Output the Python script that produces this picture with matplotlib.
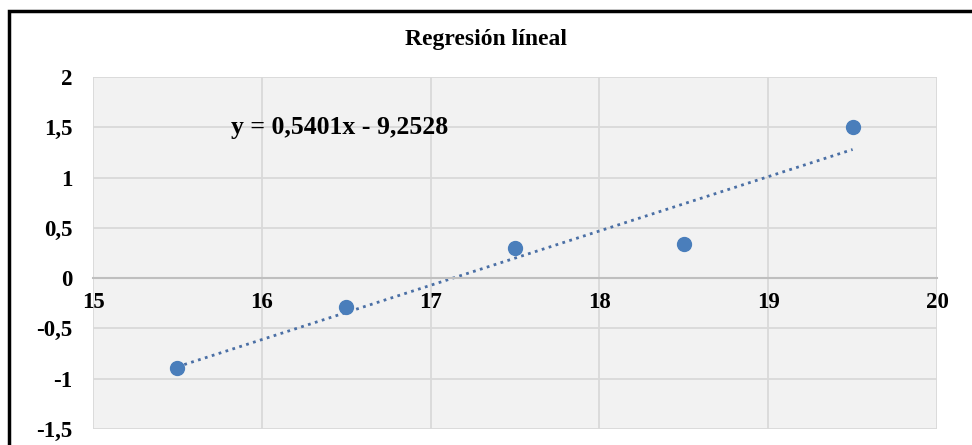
import numpy as np
import matplotlib.pyplot as plt
from matplotlib.patches import Rectangle
from matplotlib.ticker import FuncFormatter

x_vals = [15.5, 16.5, 17.5, 18.5, 19.5]
y_vals = [-0.89, -0.29, 0.30, 0.34, 1.50]
slope = 0.5401
intercept = -9.2528
title = "Regresión líneal"
eq_label = "y = 0,5401x - 9,2528"

plt.rcParams['font.family'] = ['Liberation Serif', 'DejaVu Serif']
plt.rcParams['font.weight'] = 'bold'

fig = plt.figure(figsize=(9.72, 4.45), dpi=100)
ax = fig.add_axes([93/972, 1 - 429/445, (937 - 93)/972, (429 - 77)/445])

ax.set_facecolor('#f2f2f2')
ax.set_xlim(15, 20)
ax.set_ylim(-1.5, 2)
ax.set_xticks(np.arange(15, 20.1, 1))
ax.set_yticks(np.arange(-1.5, 2.01, 0.5))
ax.grid(True, color='#d9d9d9', linewidth=1.3)
ax.set_axisbelow(True)

for s in ['top', 'right', 'left']:
    ax.spines[s].set_visible(False)
ax.spines['bottom'].set_position(('data', 0))
ax.spines['bottom'].set_color('#bfbfbf')
ax.spines['bottom'].set_linewidth(1.5)

fmt = FuncFormatter(lambda v, p: ('%g' % v).replace('.', ','))
ax.xaxis.set_major_formatter(fmt)
ax.yaxis.set_major_formatter(fmt)
ax.tick_params(axis='both', length=0, labelsize=16.5)
ax.tick_params(axis='y', pad=15)
ax.tick_params(axis='x', pad=10)

# trendline
xt = np.array([x_vals[0], x_vals[-1]])
ax.plot(xt, slope * xt + intercept, linestyle=(0, (1, 1.6)), color='#4a6fa5',
        linewidth=2, zorder=2)
ax.plot(x_vals, y_vals, 'o', color='#4a7ebb', markersize=10, zorder=3)

ax.text(15.82, 1.5, eq_label, fontsize=18.5, fontweight='bold', ha='left', va='center')
fig.text(0.5, 1 - 40/445, title, fontsize=17, fontweight='bold', ha='center', va='center')

# frame around the chart
fig.patches.append(Rectangle((9/972, -0.1), 1.2, 1 - 11/445 + 0.1, transform=fig.transFigure,
                             fill=False, edgecolor='black', linewidth=2.5))

fig.savefig('out.png', dpi=100)
